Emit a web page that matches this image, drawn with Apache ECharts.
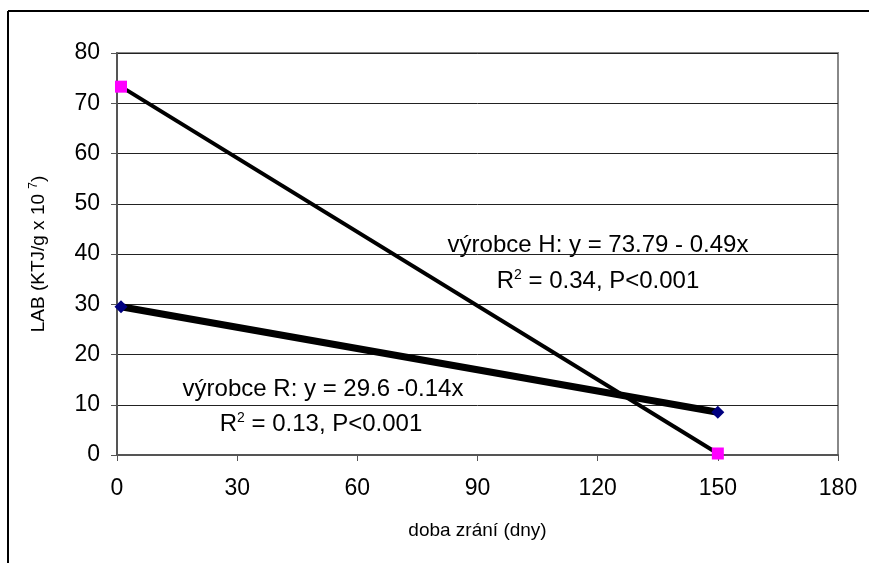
<!DOCTYPE html>
<html>
<head>
<meta charset="utf-8">
<script src="https://cdn.jsdelivr.net/npm/echarts@6/dist/echarts.min.js"></script>
<style>
  html, body { margin: 0; padding: 0; background: #fff; }
  #chart { width: 869px; height: 563px; }
</style>
</head>
<body>
<div id="chart"></div>
<script>
// doba zrání (dny)
var days = [1, 150];
// výrobce H
var lineH = [73.3, 0.3];
// výrobce R
var lineR = [29.5, 8.5];
var xTicks = [0, 30, 60, 90, 120, 150, 180];
var yTicks = [0, 10, 20, 30, 40, 50, 60, 70, 80];

var font = '"Liberation Sans", Arial, sans-serif';

function pairs(xs, ys) {
  return xs.map(function (x, i) { return [x, ys[i]]; });
}

var supRich = {
  a: { fontFamily: font, fontSize: 24, color: '#000' },
  sup: { fontFamily: font, fontSize: 14, color: '#000', padding: [0, 0, 12, 0] }
};

var myChart = echarts.init(document.getElementById('chart'));

var option = {
  animation: false,
  backgroundColor: '#fff',
  grid: {
    left: 117,
    top: 53,
    right: 31,
    bottom: 108,
    show: true,
    borderColor: '#888',
    borderWidth: 2
  },
  xAxis: {
    type: 'value',
    min: xTicks[0],
    max: xTicks[xTicks.length - 1],
    interval: 30,
    name: 'doba zrání (dny)',
    nameLocation: 'middle',
    nameGap: 66,
    nameTextStyle: { fontFamily: font, fontSize: 19, color: '#000' },
    axisLine: { lineStyle: { color: '#555', width: 2 } },
    axisTick: { show: true, length: 6, lineStyle: { color: '#555', width: 1 } },
    axisLabel: { fontFamily: font, fontSize: 23, color: '#000', margin: 22 },
    splitLine: { show: false }
  },
  yAxis: {
    type: 'value',
    min: yTicks[0],
    max: yTicks[yTicks.length - 1],
    interval: 10,
    name: '{a|LAB (KTJ/g x 10 }{sup|7}{a|)}',
    nameLocation: 'middle',
    nameGap: 68,
    nameRotate: 90,
    nameTextStyle: {
      fontFamily: font, fontSize: 19, color: '#000',
      rich: {
        a: { fontFamily: font, fontSize: 19, color: '#000' },
        sup: { fontFamily: font, fontSize: 12, color: '#000', padding: [0, 0, 9, 0] }
      }
    },
    axisLine: { show: true, lineStyle: { color: '#555', width: 2 } },
    axisTick: { show: true, length: 6, lineStyle: { color: '#555', width: 1 } },
    axisLabel: { fontFamily: font, fontSize: 23, color: '#000', margin: 17 },
    splitLine: { show: true, lineStyle: { color: '#222', width: 1 } }
  },
  series: [
    {
      name: 'výrobce H',
      type: 'line',
      data: pairs(days, lineH),
      lineStyle: { color: '#000', width: 4 },
      symbol: 'rect',
      symbolSize: 12,
      itemStyle: { color: '#ff00ff' },
      z: 3
    },
    {
      name: 'výrobce R',
      type: 'line',
      data: pairs(days, lineR),
      lineStyle: { color: '#000', width: 7 },
      symbol: 'diamond',
      symbolSize: 13,
      itemStyle: { color: '#000080' },
      z: 4
    }
  ],
  graphic: [
    { type: 'line', shape: { x1: 8, y1: 11, x2: 869, y2: 11 }, style: { stroke: '#000', lineWidth: 2 } },
    { type: 'line', shape: { x1: 8, y1: 11, x2: 8, y2: 563 }, style: { stroke: '#000', lineWidth: 2 } },
    {
      type: 'text', x: 598, y: 245,
      style: { text: 'výrobce H: y = 73.79 - 0.49x', font: '24px ' + font, fill: '#000', align: 'center', verticalAlign: 'middle' }
    },
    {
      type: 'text', x: 598, y: 281,
      style: {
        text: '{a|R}{sup|2}{a| = 0.34, P<0.001}', align: 'center', verticalAlign: 'middle', rich: supRich
      }
    },
    {
      type: 'text', x: 323, y: 389,
      style: { text: 'výrobce R: y = 29.6 -0.14x', font: '24px ' + font, fill: '#000', align: 'center', verticalAlign: 'middle' }
    },
    {
      type: 'text', x: 321, y: 424,
      style: {
        text: '{a|R}{sup|2}{a| = 0.13, P<0.001}', align: 'center', verticalAlign: 'middle', rich: supRich
      }
    }
  ]
};

myChart.setOption(option);
</script>
</body>
</html>
